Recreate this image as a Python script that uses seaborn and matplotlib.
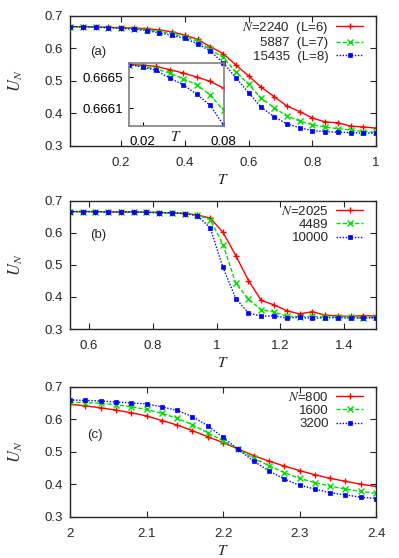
import matplotlib
matplotlib.use("Agg")
import matplotlib.pyplot as plt
import seaborn as sns
import pandas as pd

# panel (a)
T_a = [0.04, 0.08, 0.12, 0.16, 0.20, 0.24, 0.28, 0.32, 0.36, 0.40, 0.44, 0.48, 0.52,
       0.56, 0.60, 0.64, 0.68, 0.72, 0.76, 0.80, 0.84, 0.88, 0.92, 0.96, 1.00]
U_a_6 = [0.667, 0.667, 0.666, 0.665, 0.664, 0.663, 0.661, 0.657, 0.651, 0.641, 0.628, 0.605, 0.584,
         0.549, 0.515, 0.480, 0.451, 0.422, 0.405, 0.385, 0.373, 0.370, 0.360, 0.357, 0.354]
U_a_7 = [0.667, 0.667, 0.666, 0.664, 0.663, 0.661, 0.658, 0.652, 0.645, 0.636, 0.622, 0.597, 0.572,
         0.528, 0.489, 0.446, 0.417, 0.391, 0.376, 0.364, 0.357, 0.352, 0.348, 0.343, 0.341]
U_a_8 = [0.667, 0.667, 0.666, 0.664, 0.662, 0.659, 0.655, 0.648, 0.640, 0.631, 0.614, 0.592, 0.556,
         0.510, 0.463, 0.418, 0.389, 0.367, 0.355, 0.346, 0.343, 0.341, 0.340, 0.338, 0.338]
labels_a = ["$N$=2240  (L=6)", "5887  (L=7)", "15435  (L=8)"]

# inset of panel (a)
T_in = [0.01, 0.02, 0.03, 0.04, 0.05, 0.06, 0.07, 0.08]
U_in_6 = [0.666660, 0.666652, 0.666636, 0.666595, 0.666552, 0.666500, 0.666444, 0.666358]
U_in_7 = [0.666660, 0.666636, 0.666603, 0.666552, 0.666478, 0.666401, 0.666272, 0.666070]
U_in_8 = [0.666660, 0.666629, 0.666586, 0.666487, 0.666401, 0.666281, 0.666139, 0.665881]

# panel (b)
T_b = [0.54, 0.58, 0.62, 0.66, 0.70, 0.74, 0.78, 0.82, 0.86, 0.90, 0.94, 0.98, 1.02,
       1.06, 1.10, 1.14, 1.18, 1.22, 1.26, 1.30, 1.34, 1.38, 1.42, 1.46, 1.50]
U_b_2025 = [0.666, 0.666, 0.666, 0.665, 0.665, 0.665, 0.664, 0.663, 0.662, 0.660, 0.655, 0.646, 0.601,
            0.529, 0.451, 0.389, 0.375, 0.357, 0.347, 0.354, 0.343, 0.341, 0.339, 0.342, 0.340]
U_b_4489 = [0.666, 0.666, 0.666, 0.665, 0.665, 0.665, 0.664, 0.663, 0.662, 0.660, 0.655, 0.641, 0.563,
            0.443, 0.393, 0.360, 0.353, 0.340, 0.338, 0.340, 0.337, 0.338, 0.338, 0.333, 0.336]
U_b_10000 = [0.666, 0.666, 0.666, 0.665, 0.665, 0.665, 0.664, 0.663, 0.662, 0.660, 0.653, 0.615, 0.492,
             0.395, 0.350, 0.340, 0.341, 0.335, 0.336, 0.334, 0.335, 0.335, 0.334, 0.335, 0.335]
labels_b = ["$N$=2025", "4489", "10000"]

# panel (c)
T_c = [2.00, 2.02, 2.04, 2.06, 2.08, 2.10, 2.12, 2.14, 2.16, 2.18, 2.20,
       2.22, 2.24, 2.26, 2.28, 2.30, 2.32, 2.34, 2.36, 2.38, 2.40]
U_c_800 = [0.646, 0.641, 0.635, 0.628, 0.620, 0.610, 0.596, 0.582, 0.565, 0.546, 0.528,
           0.508, 0.488, 0.471, 0.456, 0.442, 0.429, 0.418, 0.409, 0.400, 0.393]
U_c_1600 = [0.652, 0.651, 0.649, 0.645, 0.638, 0.630, 0.618, 0.603, 0.583, 0.558, 0.534,
            0.507, 0.480, 0.457, 0.436, 0.418, 0.405, 0.394, 0.385, 0.378, 0.372]
U_c_3200 = [0.659, 0.658, 0.656, 0.653, 0.650, 0.647, 0.638, 0.627, 0.608, 0.580, 0.544,
            0.507, 0.471, 0.441, 0.416, 0.397, 0.385, 0.374, 0.367, 0.360, 0.356]
labels_c = ["$N$=800", "1600", "3200"]

sns.set_style("ticks")
plt.rcParams["font.family"] = ["Liberation Sans", "DejaVu Sans"]
plt.rcParams["mathtext.fontset"] = "stix"

colors = ["#ff0000", "#00dd00", "#0000ff"]
styles = [
    dict(marker="+", linestyle="-", markersize=5, markeredgewidth=1.0),
    dict(marker="x", linestyle=(0, (3, 1.5)), markersize=4, markeredgewidth=1.0),
    dict(marker="s", linestyle=(0, (1, 1.2)), markersize=3.5, markeredgewidth=0.5),
]

FS = 9.5

fig = plt.figure(figsize=(3.99, 5.58), dpi=100)
left, width = 70 / 399, 306 / 399
ax_a = fig.add_axes([left, 1 - 145.5 / 558, width, 129.5 / 558])
ax_b = fig.add_axes([left, 1 - 329 / 558, width, 128.3 / 558])
ax_c = fig.add_axes([left, 1 - 516.7 / 558, width, 130 / 558])


def draw(ax, T, series, labels, lw=1.0, legend=True):
    for U, lab, col, st in zip(series, labels, colors, styles):
        df = pd.DataFrame({"T": T, "U": U})
        sns.lineplot(data=df, x="T", y="U", ax=ax, color=col, label=lab, lw=lw,
                     markeredgecolor=col, markerfacecolor=col, legend=False, **st)
    if legend:
        ax.legend(loc="upper right", bbox_to_anchor=(0.97, 1.0), frameon=False,
                  markerfirst=False, fontsize=FS, handlelength=2.0, handletextpad=0.6,
                  labelspacing=0.08, borderaxespad=0.2, borderpad=0.1)


def style_axes(ax, xlim, xticks, xticklabels, tag, tag_xy):
    ax.set_xlim(*xlim)
    ax.set_ylim(0.3, 0.7)
    ax.set_xticks(xticks)
    ax.set_xticklabels(xticklabels)
    ax.set_yticks([0.3, 0.4, 0.5, 0.6, 0.7])
    ax.set_yticklabels(["0.3", "0.4", "0.5", "0.6", "0.7"])
    ax.tick_params(direction="in", top=True, right=True, length=4, width=0.8,
                   labelsize=FS, pad=5)
    ax.tick_params(axis="x", pad=8)
    for s in ax.spines.values():
        s.set_linewidth(1.0)
    ax.set_xlabel("$T$", fontsize=11, labelpad=3)
    ax.set_ylabel("$U_N$", fontsize=12, labelpad=14)
    ax.text(tag_xy[0], tag_xy[1], tag, transform=ax.transAxes, fontsize=FS,
            ha="left", va="center")


draw(ax_a, T_a, [U_a_6, U_a_7, U_a_8], labels_a)
style_axes(ax_a, (0.04, 1.0), [0.2, 0.4, 0.6, 0.8, 1.0], ["0.2", "0.4", "0.6", "0.8", "1"],
           "(a)", (0.065, 0.72))

draw(ax_b, T_b, [U_b_2025, U_b_4489, U_b_10000], labels_b)
style_axes(ax_b, (0.54, 1.5), [0.6, 0.8, 1.0, 1.2, 1.4], ["0.6", "0.8", "1", "1.2", "1.4"],
           "(b)", (0.065, 0.73))

draw(ax_c, T_c, [U_c_800, U_c_1600, U_c_3200], labels_c)
style_axes(ax_c, (2.0, 2.4), [2.0, 2.1, 2.2, 2.3, 2.4], ["2", "2.1", "2.2", "2.3", "2.4"],
           "(c)", (0.055, 0.63))

# inset
ax_in = fig.add_axes([129 / 399, 1 - 126 / 558, 94.5 / 399, 63 / 558])
draw(ax_in, T_in, [U_in_6, U_in_7, U_in_8], labels_a, lw=1.0, legend=False)
ax_in.set_xlim(0.01, 0.08)
ax_in.set_ylim(0.66587, 0.66668)
ax_in.set_xticks([0.02, 0.08])
ax_in.set_xticklabels(["0.02", "0.08"])
ax_in.set_yticks([0.6661, 0.6665])
ax_in.set_yticklabels(["0.6661", "0.6665"])
ax_in.tick_params(direction="in", length=3, width=0.8, labelsize=FS, pad=4, colors="black")
ax_in.tick_params(axis="x", pad=7)
for s in ax_in.spines.values():
    s.set_color("#808080")
    s.set_linewidth(1.2)
ax_in.set_xlabel("$T$", fontsize=11, labelpad=-13)
ax_in.set_ylabel("")
ax_in.patch.set_alpha(0)

fig.savefig("out.png", dpi=100)
